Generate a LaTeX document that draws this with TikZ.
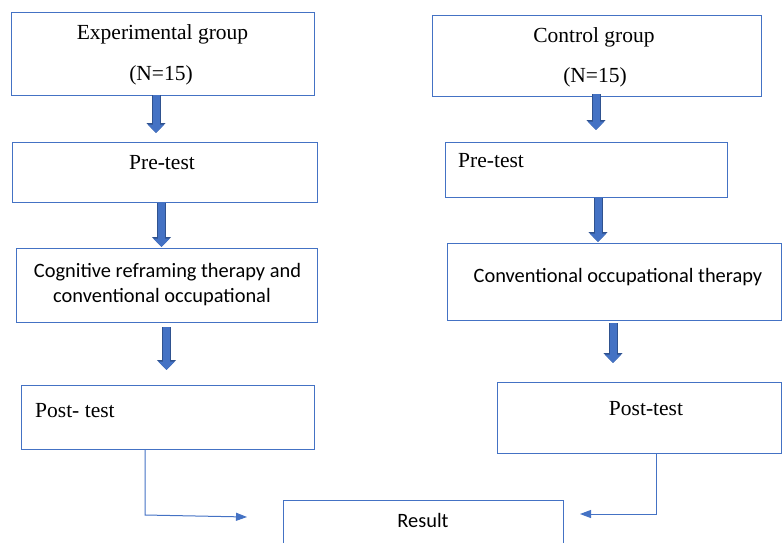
\documentclass[tikz,border=0pt]{standalone}
\usepackage{fontspec}
\setmainfont{Liberation Serif}
\newfontfamily\sansf{Carlito}
\usetikzlibrary{arrows.meta}
\definecolor{boxblue}{HTML}{4472C4}
\definecolor{arrowblue}{HTML}{4472C4}
\definecolor{arrowdark}{HTML}{2F528F}
\tikzset{
  box/.style={draw=boxblue, line width=1pt, fill=white, inner sep=0pt, outer sep=0pt},
  serif/.style={font=\fontsize{21.5}{26}\selectfont, anchor=base, inner sep=0pt},
  sans/.style={font=\sansf\fontsize{20.4}{25}\selectfont, anchor=base, inner sep=0pt},
  blockarrow/.style={line width=7pt, draw=arrowblue, -{Triangle[width=16pt,length=8.5pt]},
    preaction={draw=arrowdark, line width=9pt, -{Triangle[width=18.5pt,length=10pt]}}},
  thinarrow/.style={draw=boxblue, line width=1pt, -{Triangle[width=8pt,length=11pt]}}
}
\begin{document}
\begin{tikzpicture}[x=1pt,y=-1pt]
\useasboundingbox (0,0) rectangle (782,542);
\clip (0,0) rectangle (782,542);
% left column boxes
\node[box, minimum width=303pt, minimum height=83pt] (e1) at (162.5,53.5) {};
\node[box, minimum width=305pt, minimum height=60pt] (ep) at (164.5,172) {};
\node[box, minimum width=301pt, minimum height=74pt] (et) at (166.5,285) {};
\node[box, minimum width=293pt, minimum height=64pt] (epo) at (167.5,417) {};
% right column boxes
\node[box, minimum width=329pt, minimum height=81pt] (c1) at (596.5,55.5) {};
\node[box, minimum width=282pt, minimum height=55pt] (cp) at (586,169.5) {};
\node[box, minimum width=334pt, minimum height=77pt] (ct) at (614,281.5) {};
\node[box, minimum width=284pt, minimum height=71pt] (cpo) at (639,417.5) {};
% result
\node[box, minimum width=280pt, minimum height=60pt] (res) at (423,530) {};
% texts
\node[serif] (t1a) at (162.5,39) {Experimental group};
\node[serif] (t1b) at (161,80) {(N=15)};
\node[serif] (t2) at (162,169) {Pre-test};
\node[sans] (t3a) at (167.5,277) {Cognitive reframing therapy and};
\node[sans] (t3b) at (162,302) {conventional occupational};
\node[serif, anchor=base west] (t4) at (35,417) {Post- test};
\node[serif] (u1a) at (594,42) {Control group};
\node[serif] (u1b) at (595,82) {(N=15)};
\node[serif, anchor=base west] (u2) at (458,167) {Pre-test};
\node[sans] (u3) at (618,282) {Conventional occupational therapy};
\node[serif] (u4) at (646,415) {Post-test};
\node[sans] (rt) at (423,527) {Result};
% block arrows
\draw[blockarrow, shorten >=9pt] (156,0 |- e1.south) -- (156,0 |- ep.north);
\draw[blockarrow, shorten <=1pt, shorten >=1pt] (161.5,0 |- ep.south) -- (161.5,0 |- et.north);
\draw[blockarrow, shorten <=5pt, shorten >=15pt] (166.5,0 |- et.south) -- (166.5,0 |- epo.north);
\draw[blockarrow, shorten <=-2pt, shorten >=12pt] (596,0 |- c1.south) -- (596,0 |- cp.north);
\draw[blockarrow, shorten <=1pt, shorten >=1pt] (598,0 |- cp.south) -- (598,0 |- ct.north);
\draw[blockarrow, shorten <=3pt, shorten >=19pt] (613,0 |- ct.south) -- (613,0 |- cpo.north);
% thin connectors
\coordinate (lbend) at (145,515);
\coordinate (lend) at (247,517);
\coordinate (rbend) at (656,514);
\coordinate (rend) at (580,514);
\draw[thinarrow] (145,0 |- epo.south) -- (lbend) -- (lend);
\draw[thinarrow] (656,0 |- cpo.south) -- (rbend) -- (rend);
\end{tikzpicture}
\end{document}
